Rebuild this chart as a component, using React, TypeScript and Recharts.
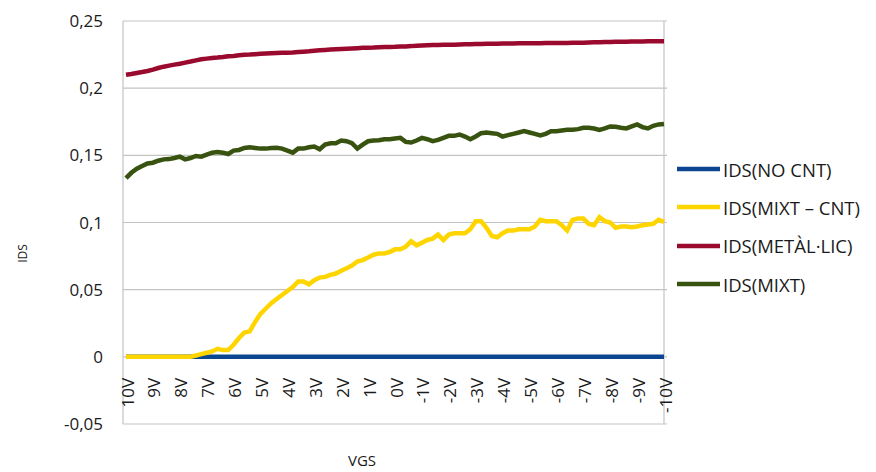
import { LineChart, Line, XAxis, YAxis, CartesianGrid, Legend, ReferenceLine } from 'recharts'

// VGS sweep, 0.2 V steps from 10 V down to -10 V
const VGS = [
  10, 9.8, 9.6, 9.4, 9.2, 9, 8.8, 8.6, 8.4, 8.2,
  8, 7.8, 7.6, 7.4, 7.2, 7, 6.8, 6.6, 6.4, 6.2,
  6, 5.8, 5.6, 5.4, 5.2, 5, 4.8, 4.6, 4.4, 4.2,
  4, 3.8, 3.6, 3.4, 3.2, 3, 2.8, 2.6, 2.4, 2.2,
  2, 1.8, 1.6, 1.4, 1.2, 1, 0.8, 0.6, 0.4, 0.2,
  0, -0.2, -0.4, -0.6, -0.8, -1, -1.2, -1.4, -1.6, -1.8,
  -2, -2.2, -2.4, -2.6, -2.8, -3, -3.2, -3.4, -3.6, -3.8,
  -4, -4.2, -4.4, -4.6, -4.8, -5, -5.2, -5.4, -5.6, -5.8,
  -6, -6.2, -6.4, -6.6, -6.8, -7, -7.2, -7.4, -7.6, -7.8,
  -8, -8.2, -8.4, -8.6, -8.8, -9, -9.2, -9.4, -9.6, -9.8,
  -10,
]

const VGS_TICKS = [10, 9, 8, 7, 6, 5, 4, 3, 2, 1, 0, -1, -2, -3, -4, -5, -6, -7, -8, -9, -10]
const IDS_TICKS = [-0.05, 0, 0.05, 0.1, 0.15, 0.2, 0.25]

const IDS_NO_CNT = [
  0, 0, 0, 0, 0, 0, 0, 0, 0, 0,
  0, 0, 0, 0, 0, 0, 0, 0, 0, 0,
  0, 0, 0, 0, 0, 0, 0, 0, 0, 0,
  0, 0, 0, 0, 0, 0, 0, 0, 0, 0,
  0, 0, 0, 0, 0, 0, 0, 0, 0, 0,
  0, 0, 0, 0, 0, 0, 0, 0, 0, 0,
  0, 0, 0, 0, 0, 0, 0, 0, 0, 0,
  0, 0, 0, 0, 0, 0, 0, 0, 0, 0,
  0, 0, 0, 0, 0, 0, 0, 0, 0, 0,
  0, 0, 0, 0, 0, 0, 0, 0, 0, 0,
  0,
]

const IDS_MIXT_CNT = [
  0, 0, 0, 0, 0, 0, 0, 0, 0, 0,
  0, 0, 0, 0.001, 0.002, 0.003, 0.004, 0.006, 0.005, 0.005,
  0.009, 0.014, 0.018, 0.019, 0.026, 0.032, 0.036, 0.04, 0.043, 0.046,
  0.049, 0.052, 0.056, 0.056, 0.054, 0.057, 0.059, 0.0595, 0.061, 0.062,
  0.064, 0.066, 0.068, 0.071, 0.072, 0.074, 0.076, 0.077, 0.077, 0.078,
  0.08, 0.08, 0.082, 0.086, 0.083, 0.085, 0.087, 0.088, 0.091, 0.087,
  0.091, 0.092, 0.092, 0.092, 0.095, 0.101, 0.101, 0.096, 0.09, 0.089,
  0.092, 0.094, 0.094, 0.095, 0.095, 0.095, 0.097, 0.102, 0.101, 0.101,
  0.101, 0.098, 0.094, 0.102, 0.103, 0.103, 0.099, 0.098, 0.104, 0.101,
  0.1, 0.096, 0.097, 0.097, 0.0965, 0.097, 0.098, 0.0985, 0.099, 0.102,
  0.1005,
]

const IDS_METALLIC = [
  0.21, 0.2106, 0.2113, 0.212, 0.2128, 0.2138, 0.215, 0.216, 0.2168, 0.2175,
  0.2182, 0.219, 0.2198, 0.2207, 0.2215, 0.222, 0.2225, 0.2228, 0.2232, 0.2237,
  0.224, 0.2245, 0.2248, 0.225, 0.2253, 0.2256, 0.2258, 0.226, 0.2262, 0.2263,
  0.2264, 0.2266, 0.227, 0.2272, 0.2274, 0.2278, 0.2282, 0.2285, 0.2288, 0.229,
  0.2292, 0.2294, 0.2296, 0.2298, 0.23, 0.2301, 0.2302, 0.2304, 0.2306, 0.2307,
  0.2308, 0.231, 0.2311, 0.2313, 0.2316, 0.2318, 0.232, 0.2321, 0.2322, 0.2323,
  0.2324, 0.2324, 0.2325, 0.2326, 0.2327, 0.2328, 0.2329, 0.233, 0.2331, 0.2331,
  0.2332, 0.2333, 0.2333, 0.2334, 0.2334, 0.2335, 0.2335, 0.2335, 0.2336, 0.2336,
  0.2336, 0.2337, 0.2337, 0.2338, 0.2338, 0.2339, 0.234, 0.2341, 0.2342, 0.2343,
  0.2344, 0.2345, 0.2346, 0.2346, 0.2347, 0.2348, 0.2348, 0.2349, 0.235, 0.235,
  0.235,
]

const IDS_MIXT = [
  0.133, 0.137, 0.14, 0.142, 0.144, 0.1445, 0.146, 0.147, 0.1472, 0.148,
  0.149, 0.147, 0.148, 0.1495, 0.149, 0.1505, 0.152, 0.1525, 0.152, 0.151,
  0.1535, 0.154, 0.1555, 0.156, 0.1555, 0.155, 0.155, 0.1555, 0.1557, 0.155,
  0.1535, 0.152, 0.155, 0.155, 0.156, 0.1565, 0.1545, 0.158, 0.159, 0.159,
  0.161, 0.1605, 0.159, 0.155, 0.158, 0.1605, 0.161, 0.1612, 0.162, 0.162,
  0.1625, 0.163, 0.16, 0.1595, 0.161, 0.163, 0.162, 0.1605, 0.1615, 0.163,
  0.1645, 0.1645, 0.1655, 0.164, 0.162, 0.164, 0.1665, 0.167, 0.1665, 0.166,
  0.164, 0.165, 0.166, 0.167, 0.168, 0.167, 0.166, 0.1648, 0.166, 0.168,
  0.168, 0.1685, 0.169, 0.169, 0.1695, 0.1705, 0.1705, 0.17, 0.169, 0.17,
  0.1715, 0.1712, 0.1705, 0.17, 0.1715, 0.173, 0.171, 0.17, 0.172, 0.173,
  0.1734,
]

const SERIES = [
  { key: 'noCnt', name: 'IDS(NO CNT)', color: '#0d4690' },
  { key: 'mixtCnt', name: 'IDS(MIXT – CNT)', color: '#ffd500' },
  { key: 'metallic', name: 'IDS(METÀL·LIC)', color: '#9a0a2e' },
  { key: 'mixt', name: 'IDS(MIXT)', color: '#385310' },
]

const data = VGS.map((v, i) => ({
  vgs: v,
  noCnt: IDS_NO_CNT[i],
  mixtCnt: IDS_MIXT_CNT[i],
  metallic: IDS_METALLIC[i],
  mixt: IDS_MIXT[i],
}))

const W = 868
const H = 464
const M = { top: 13, right: 209, bottom: 0, left: 0 }
const Y_AXIS_W = 115
const X_AXIS_H = 48
const Y_MIN = -0.05
const Y_MAX = 0.25
const GRID = '#c3c3c3'
const TEXT = '#1a1a1a'

// x axis crosses at IDS = 0, so labels sit just under the zero line
const plotH = H - M.top - M.bottom - X_AXIS_H
const zeroY = M.top + (plotH * (Y_MAX - 0)) / (Y_MAX - Y_MIN)

function fmtComma(v: number): string {
  return String(v).replace('.', ',')
}

function VgsTick({ x, payload }: any) {
  return (
    <text
      transform={`translate(${x + 1},${zeroY + 21}) rotate(-90)`}
      textAnchor="end"
      dominantBaseline="central"
      fontSize={17}
      fill={TEXT}
    >
      {`${payload.value}V`}
    </text>
  )
}

// keep the legend in series order (recharts sorts by name otherwise)
function LegendBox({ payload }: any) {
  const items = [...(payload ?? [])].sort(
    (a: any, b: any) =>
      SERIES.findIndex((s) => s.name === a.value) - SERIES.findIndex((s) => s.name === b.value),
  )
  return (
    <div>
      {items.map((p: any) => (
        <div key={p.value} style={{ display: 'flex', alignItems: 'center', height: 38.3 }}>
          <svg width={46} height={6}>
            <line x1={0} y1={3} x2={43} y2={3} stroke={p.color} strokeWidth={4.5} />
          </svg>
          <span style={{ fontSize: 18.5, color: TEXT, whiteSpace: 'nowrap' }}>{p.value}</span>
        </div>
      ))}
    </div>
  )
}

export default function App() {
  return (
    <div style={{ fontFamily: '"Open Sans", sans-serif' }}>
      <LineChart width={W} height={H} data={data} margin={M}>
        <CartesianGrid horizontal vertical={false} stroke={GRID} strokeWidth={1.2} />
        <XAxis
          dataKey="vgs"
          type="number"
          domain={[-10, 10]}
          reversed
          ticks={VGS_TICKS}
          interval={0}
          height={X_AXIS_H}
          axisLine={false}
          tickLine={false}
          tick={<VgsTick />}
          padding={{ left: 3, right: 3 }}
          label={{ value: 'VGS', position: 'insideBottom', offset: 6, dx: -33, fontSize: 15, fill: TEXT }}
        />
        <YAxis
          type="number"
          domain={[Y_MIN, Y_MAX]}
          ticks={IDS_TICKS}
          width={Y_AXIS_W}
          axisLine={{ stroke: GRID, strokeWidth: 1.2 }}
          tickLine={false}
          tickSize={0}
          tickMargin={20}
          tick={{ fontSize: 17, fill: TEXT }}
          tickFormatter={fmtComma}
          label={({ viewBox }: any) => {
            const cx = viewBox.x + 14
            const cy = viewBox.y + viewBox.height / 2 + 31
            return (
              <text
                transform={`translate(${cx},${cy}) rotate(-90)`}
                textAnchor="middle"
                dominantBaseline="central"
                fontSize={12}
                fill={TEXT}
              >
                IDS
              </text>
            )
          }}
        />
        <ReferenceLine x={-10} stroke={GRID} strokeWidth={1.2} ifOverflow="extendDomain" />
        <Legend
          layout="vertical"
          align="center"
          verticalAlign="middle"
          content={<LegendBox />}
          wrapperStyle={{ left: 669, top: 142, width: 200 }}
        />
        {SERIES.map((s) => (
          <Line
            key={s.key}
            type="linear"
            dataKey={s.key}
            name={s.name}
            stroke={s.color}
            strokeWidth={4.5}
            dot={false}
            activeDot={false}
            isAnimationActive={false}
          />
        ))}
      </LineChart>
    </div>
  )
}
